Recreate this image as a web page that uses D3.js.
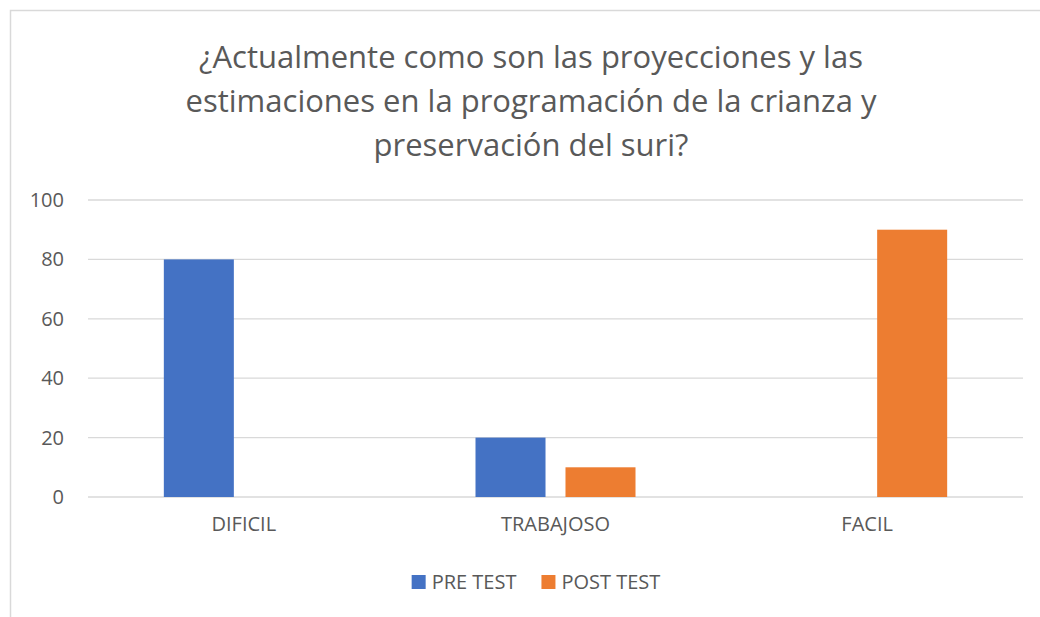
<!DOCTYPE html>
<html>
<head>
<meta charset="utf-8">
<script src="https://cdn.jsdelivr.net/npm/d3@7"></script>
<style>
  body { margin: 0; background: #fff; }
  svg { display: block; font-family: "Open Sans", sans-serif; }
  .axis text { fill: #595959; }
</style>
</head>
<body>
<div id="chart"></div>
<script>
// Data
var categories = ["DIFICIL", "TRABAJOSO", "FACIL"];
var seriesNames = ["PRE TEST", "POST TEST"];
var preTest = [80, 20, 0];
var postTest = [0, 10, 90];
var yTicks = [0, 20, 40, 60, 80, 100];
var titleLines = [
  "¿Actualmente como son las proyecciones y las",
  "estimaciones en la programación de la crianza y",
  "preservación del suri?"
];
var colors = ["#4472c4", "#ed7d31"];

var W = 1040, H = 617;
var plot = {left: 88, right: 1023, top: 200, bottom: 497};

var svg = d3.select("#chart").append("svg")
    .attr("width", W)
    .attr("height", H);

// chart border (only top/left visible in the crop)
svg.append("rect")
    .attr("x", 10.5).attr("y", 10.5)
    .attr("width", 1100).attr("height", 700)
    .attr("fill", "none")
    .attr("stroke", "#d9d9d9")
    .attr("stroke-width", 1.5);

// Title
svg.append("text")
    .attr("text-anchor", "middle")
    .style("font-size", "31px")
    .style("fill", "#595959")
  .selectAll("tspan")
  .data(titleLines)
  .enter().append("tspan")
    .attr("x", 531)
    .attr("y", function(d, i) { return 68 + i * 44; })
    .text(function(d) { return d; });

// Scales
var x0 = d3.scaleBand()
    .domain(categories)
    .range([plot.left, plot.right])
    .paddingInner(0).paddingOuter(0);

var groupW = 160;
var x1 = d3.scaleBand()
    .domain(seriesNames)
    .range([0, groupW])
    .paddingInner(0.222);

var y = d3.scaleLinear()
    .domain([0, 100])
    .range([plot.bottom, plot.top]);

// Gridlines
svg.append("g")
  .selectAll("line")
  .data(yTicks)
  .enter().append("line")
    .attr("x1", plot.left).attr("x2", plot.right)
    .attr("y1", function(d) { return y(d); })
    .attr("y2", function(d) { return y(d); })
    .attr("stroke", "#d9d9d9")
    .attr("stroke-width", 1.3);

// Y axis labels
var yAxis = svg.append("g")
    .attr("class", "axis")
    .attr("transform", "translate(" + (plot.left - 14) + ",0)")
    .call(d3.axisLeft(y).tickValues(yTicks).tickSize(0).tickPadding(10));
yAxis.select(".domain").remove();
yAxis.selectAll("text").style("font-size", "20px").style("font-family", "'Open Sans', sans-serif");

// Bars
var rows = categories.map(function(c, i) {
  return {cat: c, values: [preTest[i], postTest[i]]};
});

var groups = svg.append("g")
  .selectAll("g")
  .data(rows)
  .enter().append("g")
    .attr("transform", function(d) {
      return "translate(" + (x0(d.cat) + (x0.bandwidth() - groupW) / 2) + ",0)";
    });

groups.selectAll("rect")
  .data(function(d) { return d.values.map(function(v, j) { return {name: seriesNames[j], v: v, j: j}; }); })
  .enter().append("rect")
    .attr("x", function(d) { return x1(d.name); })
    .attr("width", x1.bandwidth())
    .attr("y", function(d) { return y(d.v); })
    .attr("height", function(d) { return y(0) - y(d.v); })
    .attr("fill", function(d) { return colors[d.j]; });

// X axis labels
var xAxis = svg.append("g")
    .attr("class", "axis")
    .attr("transform", "translate(0," + (plot.bottom + 20) + ")")
    .call(d3.axisBottom(x0).tickSize(0).tickPadding(0));
xAxis.select(".domain").remove();
xAxis.selectAll("text")
    .attr("dy", "0.71em")
    .style("font-size", "20px")
    .style("font-family", "'Open Sans', sans-serif");

// Legend
var legend = svg.append("g");
var items = legend.selectAll("g")
  .data(seriesNames)
  .enter().append("g");
items.append("rect")
    .attr("width", 14).attr("height", 14)
    .attr("y", 575)
    .attr("fill", function(d, i) { return colors[i]; });
items.append("text")
    .attr("x", 20)
    .attr("y", 589)
    .style("font-size", "20px")
    .style("fill", "#595959")
    .text(function(d) { return d; });

var offs = 0, pos = [];
items.each(function() {
  pos.push(offs);
  offs += 20 + d3.select(this).select("text").node().getComputedTextLength() + 25;
});
var totalW = offs - 25;
var startX = 536 - totalW / 2;
items.attr("transform", function(d, i) { return "translate(" + (startX + pos[i]) + ",0)"; });
</script>
</body>
</html>
